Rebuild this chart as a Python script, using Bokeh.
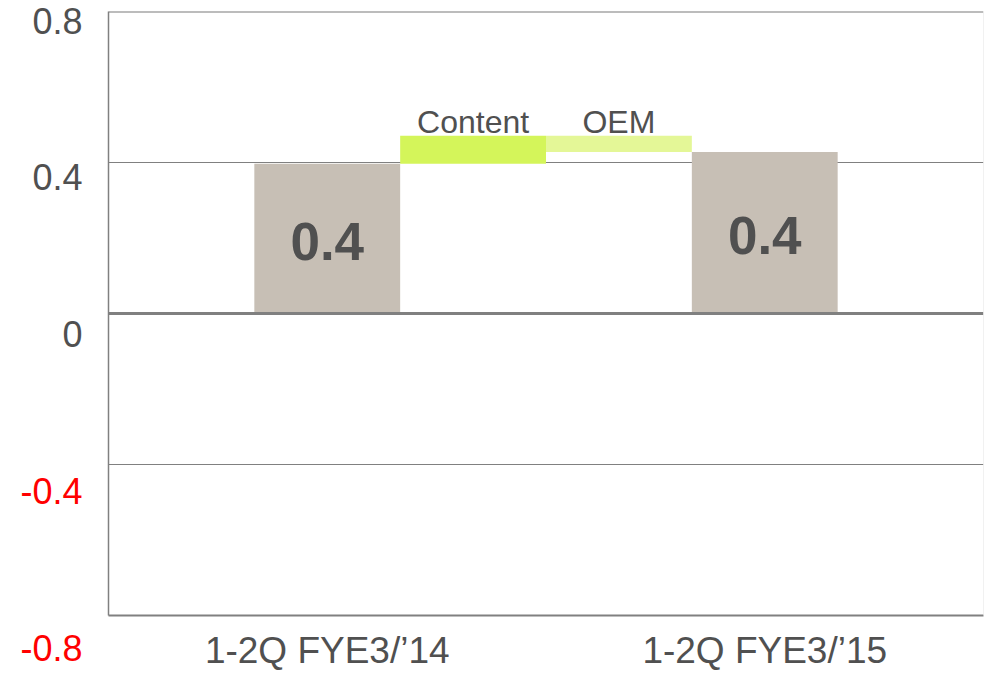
from bokeh.plotting import figure
from bokeh.layouts import row
from bokeh.models import Range1d, FixedTicker, Span, ColumnDataSource
from bokeh.embed import file_html
from bokeh.resources import INLINE
from bokeh.core.properties import value

# ---- data ----
categories = ["1-2Q FYE3/\u201914", "Content", "OEM", "1-2Q FYE3/\u201915"]
start_total = 0.397
changes = [0.074, -0.043]
end_total = 0.428
total_color = "#C7BFB5"
change_colors = ["#D4F55A", "#E4F797"]
y_ticks = [0.8, 0.4, 0.0, -0.4, -0.8]
y_tick_labels = ["0.8", "0.4", "0", "-0.4", "-0.8"]
grid_ticks = [-0.4, 0.4]

FONT_NAME = "Liberation Sans"
FONT = value(FONT_NAME)
TEXT = "#505050"
LINE = "#808080"

# ---- waterfall geometry from the values ----
xs = [i + 1.5 for i in range(len(categories))]
running = start_total
bottoms, tops = [0.0], [start_total]
for c in changes:
    nxt = running + c
    bottoms.append(min(running, nxt))
    tops.append(max(running, nxt))
    running = nxt
bottoms.append(0.0)
tops.append(end_total)
colors = [total_color] + change_colors + [total_color]

H = 673
LEFT_W = 100
MAIN_W = 884
BORDER_TOP, BORDER_BOTTOM = 11, 56

# ---- main chart ----
p = figure(width=MAIN_W, height=H, x_range=Range1d(0, len(categories) + 2),
           y_range=Range1d(-0.8, 0.8), output_backend="svg", title=None,
           toolbar_location=None, min_border_left=8, min_border_right=1,
           min_border_top=BORDER_TOP, min_border_bottom=BORDER_BOTTOM)
p.frame_align = False
p.outline_line_color = None
p.background_fill_color = "white"
p.border_fill_color = "white"

p.xgrid.visible = False
p.ygrid.ticker = FixedTicker(ticks=grid_ticks)
p.ygrid.grid_line_color = LINE
p.ygrid.grid_line_width = 1

p.vbar(x=xs, bottom=bottoms, top=tops, width=1.0, fill_color=colors,
       line_color=None)

p.add_layout(Span(location=0, dimension="width", line_color=LINE, line_width=3))
p.add_layout(Span(location=0.8, dimension="width", line_color="#7A7A7A", line_width=2))
p.add_layout(Span(location=len(categories) + 2, dimension="height",
                  line_color="#E4E4E4", line_width=1))

src_tot = ColumnDataSource(dict(
    x=[xs[0], xs[-1]],
    y=[tops[0] / 2, tops[-1] / 2],
    t=[f"{start_total:.1f}", f"{end_total:.1f}"]))
p.text(x="x", y="y", text="t", source=src_tot, text_font=FONT,
       text_font_size="53px", text_font_style="bold", text_color=TEXT,
       text_align="center", text_baseline="middle", y_offset=3)

src_chg = ColumnDataSource(dict(x=xs[1:-1], y=tops[1:-1], t=categories[1:-1]))
p.text(x="x", y="y", text="t", source=src_chg, text_font=FONT,
       text_font_size="32px", text_color=TEXT, text_align="center",
       text_baseline="bottom", y_offset=4)

p.xaxis.ticker = FixedTicker(ticks=[xs[0], xs[-1]])
p.xaxis.major_label_overrides = {xs[0]: categories[0], xs[-1]: categories[-1]}
p.xaxis.major_label_text_font = FONT_NAME
p.xaxis.major_label_text_font_size = "37px"
p.xaxis.major_label_text_color = TEXT
p.xaxis.major_label_standoff = 14
p.xaxis.axis_line_color = LINE
p.xaxis.axis_line_width = 2
p.xaxis.major_tick_out = 0
p.xaxis.major_tick_in = 0
p.xaxis.minor_tick_out = 0
p.xaxis.minor_tick_in = 0

p.yaxis.ticker = FixedTicker(ticks=[])
p.yaxis.axis_line_color = LINE
p.yaxis.axis_line_width = 1.5
p.yaxis.major_label_standoff = 0
p.yaxis.major_tick_out = 0
p.yaxis.major_tick_in = 0
p.yaxis.minor_tick_out = 0
p.yaxis.minor_tick_in = 0

# ---- value-axis labels (they sit a little below their gridlines) ----
lab_top_px, lab_bottom_px = 20, 647
per = (lab_bottom_px - lab_top_px) / 1.6
lab_range = Range1d(-0.8 - (H - lab_bottom_px) / per, 0.8 + lab_top_px / per)
pl = figure(width=LEFT_W, height=H, x_range=Range1d(0, LEFT_W), y_range=lab_range,
            x_axis_type=None, y_axis_type=None, output_backend="svg", title=None,
            toolbar_location=None, min_border=0)
pl.frame_align = False
pl.outline_line_color = None
pl.background_fill_color = "white"
pl.border_fill_color = "white"
src_lab = ColumnDataSource(dict(
    x=[82] * len(y_ticks), y=y_ticks, t=y_tick_labels,
    c=["#FF0000" if v < 0 else TEXT for v in y_ticks]))
pl.text(x="x", y="y", text="t", text_color="c", source=src_lab, text_font=FONT,
        text_font_size="36px", text_align="right", text_baseline="middle")

layout = row(pl, p, spacing=0)
open("out.html", "w").write(file_html(layout, INLINE))
